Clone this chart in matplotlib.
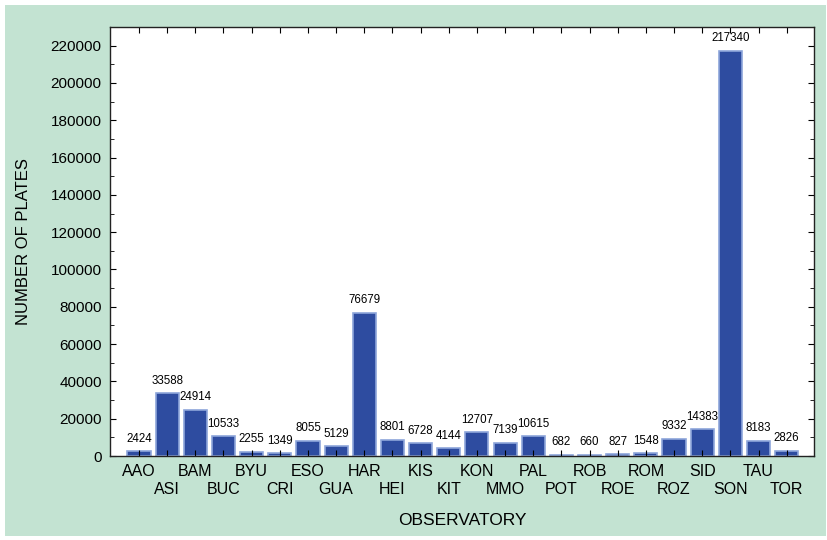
import matplotlib.pyplot as plt
from matplotlib.patches import Rectangle
from matplotlib.ticker import MultipleLocator

observatories = ["AAO", "ASI", "BAM", "BUC", "BYU", "CRI", "ESO", "GUA", "HAR", "HEI",
                 "KIS", "KIT", "KON", "MMO", "PAL", "POT", "ROB", "ROE", "ROM", "ROZ",
                 "SID", "SON", "TAU", "TOR"]
plates = [2424, 33588, 24914, 10533, 2255, 1349, 8055, 5129, 76679, 8801,
          6728, 4144, 12707, 7139, 10615, 682, 660, 827, 1548, 9332,
          14383, 217340, 8183, 2826]

plt.rcParams['font.family'] = ['Liberation Sans', 'DejaVu Sans']

green = "#c3e3d2"
fig = plt.figure(figsize=(8.28, 5.40), dpi=100, facecolor="white")
fig.patches.append(Rectangle((5 / 828, 4 / 540), 821 / 828, 531 / 540,
                             transform=fig.transFigure, facecolor=green,
                             edgecolor="none", zorder=-1))
ax = fig.add_axes([110 / 828, (540 - 456) / 540, 704 / 828, 429 / 540])
ax.set_facecolor("white")

x = list(range(len(observatories)))
ax.bar(x, plates, width=0.82, color="#2e4ca0", edgecolor="#8ea6da", linewidth=1.2)
for xi, v in zip(x, plates):
    ax.text(xi, v + 3500, str(v), ha="center", va="bottom", fontsize=8.3)

ax.set_xlim(-1.03, 23.97)
ax.set_ylim(0, 230000)
ax.yaxis.set_minor_locator(MultipleLocator(10000))
ax.set_yticks(range(0, 220001, 20000))

ax.set_xticks(x)
ax.set_xticklabels(observatories, fontsize=11.5)
ax.tick_params(axis="y", labelsize=11, direction="in", right=True, length=4, pad=6)
ax.tick_params(axis="y", which="minor", direction="in", right=True, length=3)
ax.tick_params(axis="x", direction="in", top=True, length=4, pad=6)
# every second label goes on a lower row
for i, tick in enumerate(ax.xaxis.get_major_ticks()):
    if i % 2 == 1:
        tick.set_pad(19)

for s in ax.spines.values():
    s.set_linewidth(1.0)
    s.set_color("#222222")

ax.set_xlabel("OBSERVATORY", fontsize=12.5)
ax.set_ylabel("NUMBER OF PLATES", fontsize=12)
ax.xaxis.set_label_coords(0.5, -0.133)
ax.yaxis.set_label_coords(-0.112, 0.5)

fig.savefig("out.png", dpi=100, facecolor=fig.get_facecolor())
